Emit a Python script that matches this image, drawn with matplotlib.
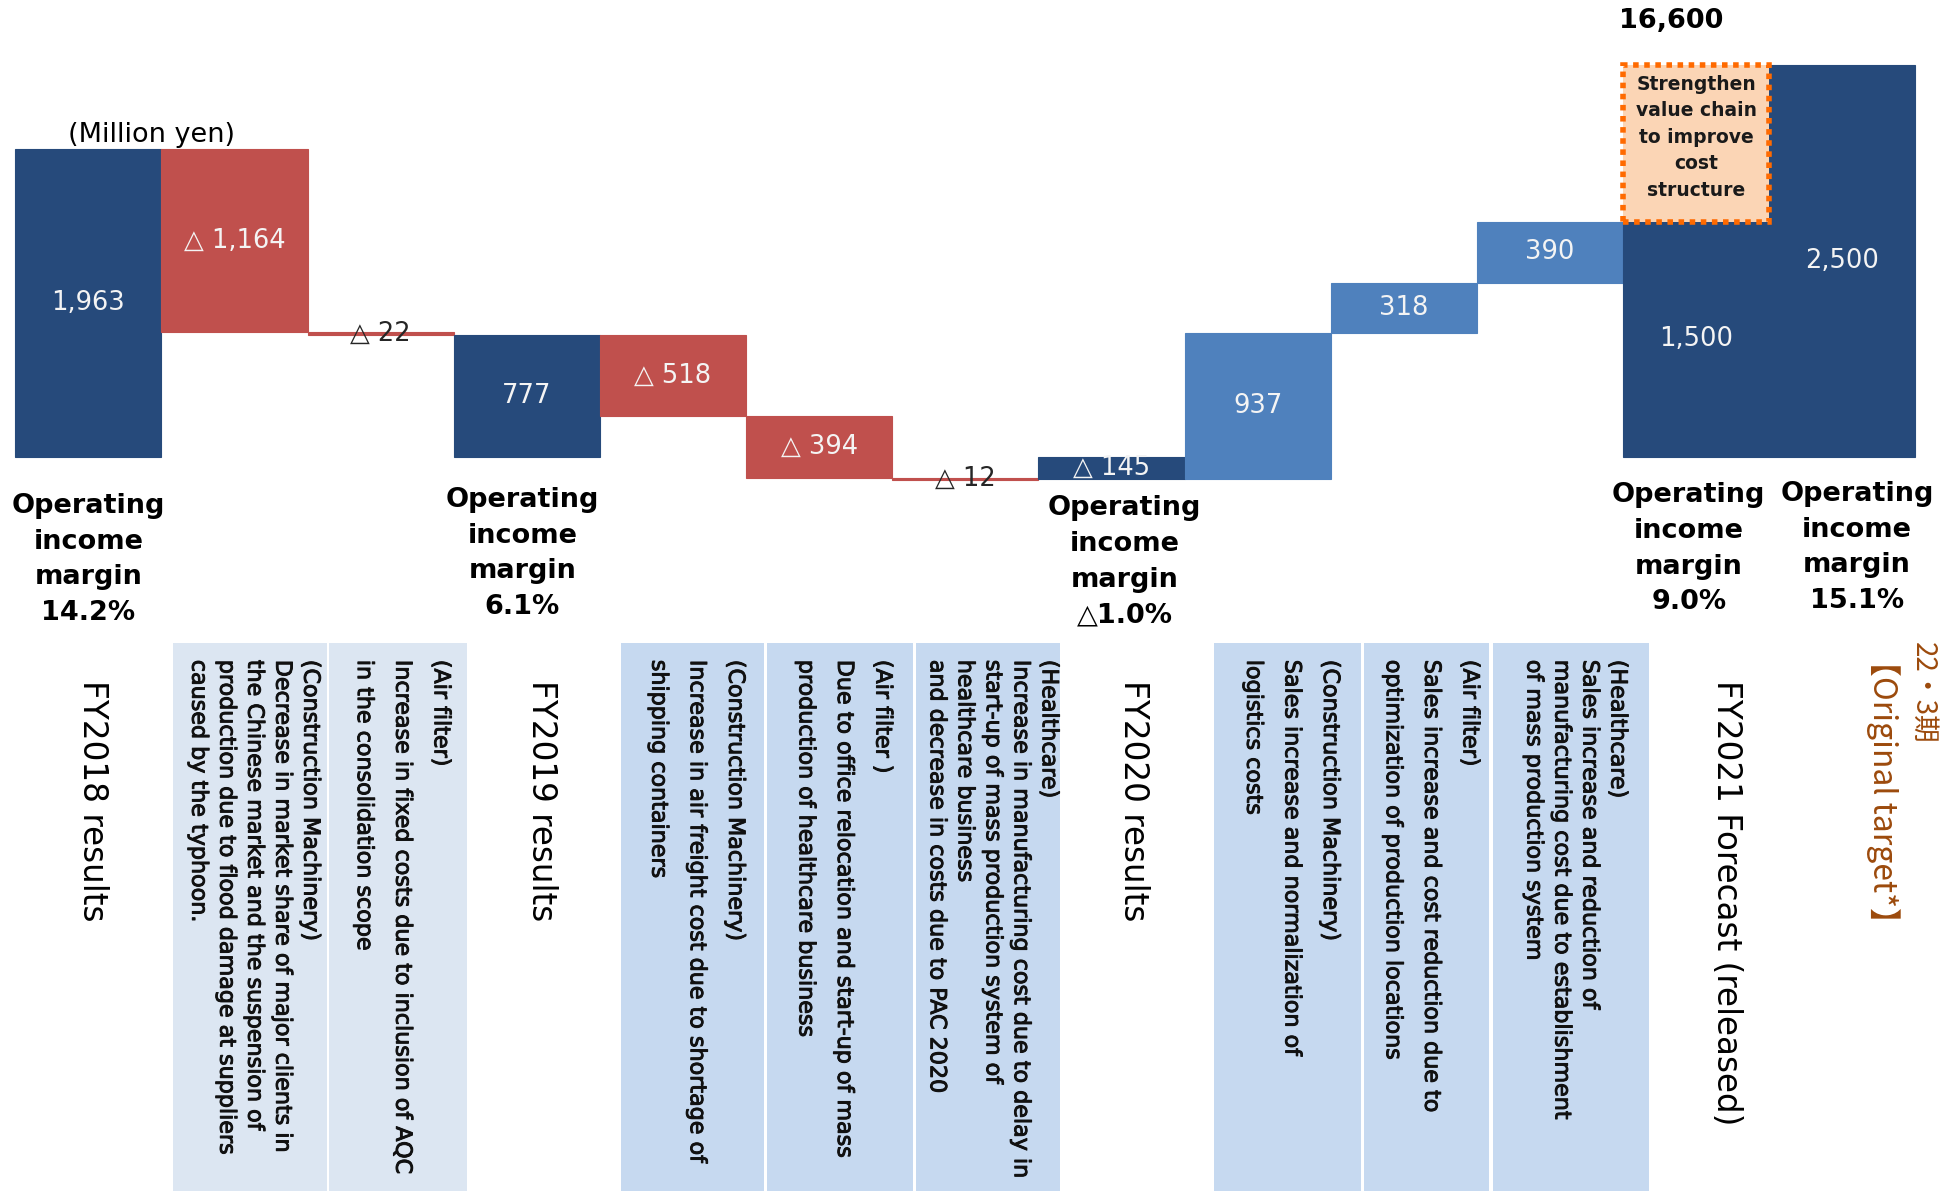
import matplotlib
matplotlib.use('Agg')
import matplotlib.pyplot as plt
import matplotlib.transforms as mtransforms
import matplotlib.patheffects as pe
from matplotlib.patches import Rectangle

# operating income bridge, million yen
step_values = [1963, -1164, -22, 777, -518, -394, -12, -145, 937, 318, 390, 1500, 2500]
is_total = [True, False, False, True, False, False, False, True, False, False, False, True, True]

margin_cols = [0, 3, 7, 11, 12]
margin_rates = ['14.2%', '6.1%', '△1.0%', '9.0%', '15.1%']

result_cols = [0, 3, 7, 11]
result_names = ['FY2018 results', 'FY2019 results', 'FY2020 results',
                'FY2021 Forecast (released)']

target_period = '22・3期'
target_name = '【Original target*】'
target_sales = '16,600'
target_action = 'Strengthen\nvalue chain\nto improve\ncost\nstructure'

factor_cols = [1, 2, 4, 5, 6, 8, 9, 10]
factor_notes = [
    '(Construction Machinery)\nDecrease in market share of major clients in\n'
    'the Chinese market and the suspension of\n'
    'production due to flood damage at suppliers\ncaused by the typhoon.',
    '(Air filter)\nIncrease in fixed costs due to inclusion of AQC\n'
    'in the consolidation scope',
    '(Construction Machinery)\nIncrease in air freight cost due to shortage of\n'
    'shipping containers',
    '(Air filter )\nDue to office relocation and start-up of mass\n'
    'production of healthcare business',
    '(Healthcare)\nIncrease in manufacturing cost due to delay in\n'
    'start-up of mass production system of\nhealthcare business\n'
    'and decrease in costs due to PAC 2020',
    '(Construction Machinery)\nSales increase and normalization of\nlogistics costs',
    '(Air filter)\nSales increase and cost reduction due to\n'
    'optimization of production locations',
    '(Healthcare)\nSales increase and reduction of\n'
    'manufacturing cost due to establishment\nof mass production system',
]

NAVY = '#264a7b'
RED = '#c0504d'
BLUE = '#4f81bd'

# waterfall: totals start at zero, steps start where the previous bar ended
bottoms, heights, colors = [], [], []
running = 0
for v, tot in zip(step_values, is_total):
    if tot:
        bottoms.append(0)
        running = v
        colors.append(NAVY)
    else:
        bottoms.append(running)
        running += v
        colors.append(RED if v < 0 else BLUE)
    heights.append(v)

fig = plt.figure(figsize=(19.52, 11.91), dpi=100)
ax = fig.add_axes([0, 0, 1, 1])
ax.set_xlim(-0.605, 12.751)
ax.set_ylim(-4690, 2917)
ax.axis('off')

xs = list(range(len(step_values)))
ax.bar(xs, heights, bottom=bottoms, width=1.0, color=colors,
       edgecolor=colors, linewidth=0.8)

for i, (b, h, v) in enumerate(zip(bottoms, heights, step_values)):
    txt = f'△ {abs(v):,}' if v < 0 else f'{v:,}'
    thin = abs(h) < 50
    ax.text(i, b + h / 2, txt, ha='center', va='center', fontsize=18.5,
            color='#262626' if thin else '#f4f4f4')

# gap between forecast and original target
ax.bar(11, step_values[12] - step_values[11], bottom=step_values[11], width=1.0,
       facecolor='#fbd5b5', edgecolor='#ff6a00', linewidth=4,
       linestyle=(0, (1, 1)), zorder=3)
ax.text(11, (step_values[11] + step_values[12]) / 2 + 40, target_action,
        ha='center', va='center', fontsize=13.5, fontweight='bold',
        linespacing=1.5, color='#1a1a1a', zorder=4)
ax.text(10.83, 2780, target_sales, ha='center', va='center',
        fontsize=19.5, fontweight='bold')

ax.text(0.434, 2057, '(Million yen)', ha='center', va='center', fontsize=19.5)

bt = mtransforms.blended_transform_factory(ax.transData, ax.transAxes)

margin_dx = [0, -0.03, 0.09, -0.05, 0.1]
margin_top = [0.586, 0.591, 0.584, 0.595, 0.596]
for col, rate, dx, top in zip(margin_cols, margin_rates, margin_dx, margin_top):
    ax.text(col + dx, top, 'Operating\nincome\nmargin\n' + rate, transform=bt,
            ha='center', va='top', fontsize=19.5, fontweight='bold',
            linespacing=1.48)

# factor descriptions under each step (panel edges in column units)
panel_edges = [(0.58, 1.63), (1.645, 2.59), (3.645, 4.62), (4.64, 5.64),
               (5.665, 6.65), (7.70, 8.705), (8.73, 9.585), (9.61, 10.68)]
thicken = [pe.withStroke(linewidth=0.7, foreground='#111111')]
for col, note, (x0, x1) in zip(factor_cols, factor_notes, panel_edges):
    face = '#dce6f2' if col < 3 else '#c6d9f0'
    ax.add_patch(Rectangle((x0, 0), x1 - x0, 0.4598, transform=bt,
                           facecolor=face, edgecolor='none'))
    # short notes are spread across the panel width
    spacing = 1.5 if note.count('\n') >= 3 else 2.15
    ax.text((x0 + x1) / 2 + 0.03, 0.446, note, transform=bt, rotation=-90,
            ha='center', va='top', multialignment='left',
            fontsize=16, linespacing=spacing, color='#111111',
            path_effects=thicken)

result_dx = [0.03, 0.1, 0.15, 0.21]
for col, name, dx in zip(result_cols, result_names, result_dx):
    ax.text(col + dx, 0.429, name, transform=bt, rotation=-90,
            ha='center', va='top', fontsize=23.5)

cjk = ['Noto Sans CJK JP', 'DejaVu Sans']
ax.text(12.55, 0.461, target_period, transform=bt, rotation=-90,
        ha='center', va='top', fontsize=20, color='#9c4a0c', family=cjk)
ax.text(12.28, 0.459, target_name, transform=bt, rotation=-90,
        ha='center', va='top', fontsize=23, color='#9c4a0c', family=cjk)

fig.savefig('out.png', dpi=100)
